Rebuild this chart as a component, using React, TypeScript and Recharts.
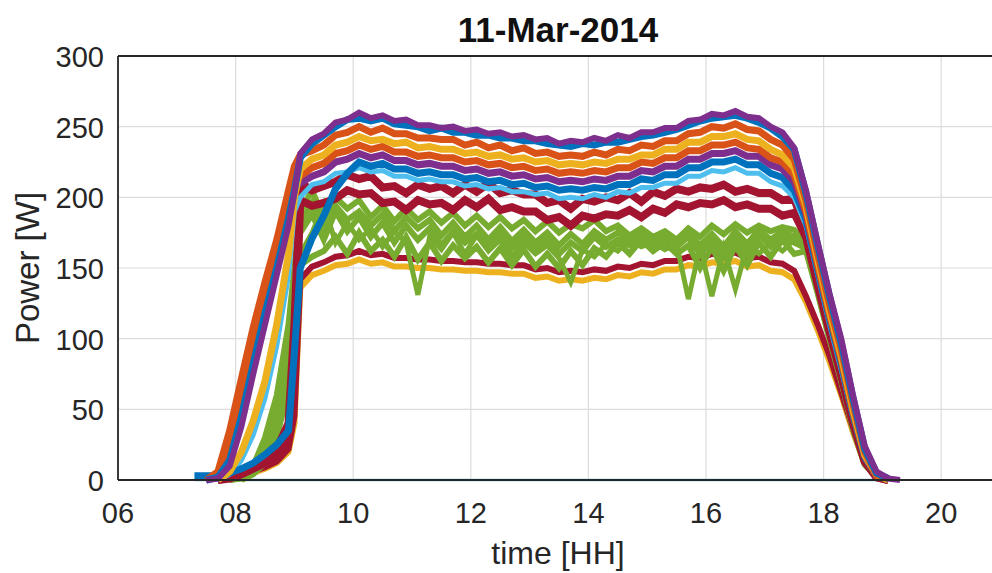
import React from 'react'
import { LineChart, Line, XAxis, YAxis, CartesianGrid, ReferenceLine } from 'recharts'

// time of day [h]
const T = [
  7.3, 7.5, 7.7, 7.9, 8.1, 8.3, 8.5, 8.7, 8.9, 9.0,
  9.1, 9.3, 9.5, 9.7, 9.9, 10.1, 10.3, 10.5, 10.7, 10.9,
  11.1, 11.3, 11.5, 11.7, 11.9, 12.1, 12.3, 12.5, 12.7, 12.9,
  13.1, 13.3, 13.5, 13.7, 13.9, 14.1, 14.3, 14.5, 14.7, 14.9,
  15.1, 15.3, 15.5, 15.7, 15.9, 16.1, 16.3, 16.5, 16.7, 16.9,
  17.1, 17.3, 17.5,
  17.7, 17.9, 18.1, 18.3, 18.5, 18.7, 18.9, 19.1, 19.3,
]

// power [W] per module
const zero = [
  0, 0, 0, 0, 0, 0, 0, 0, 0, 0,
  0, 0, 0, 0, 0, 0, 0, 0, 0, 0,
  0, 0, 0, 0, 0, 0, 0, 0, 0, 0,
  0, 0, 0, 0, 0, 0, 0, 0, 0, 0,
  0, 0, 0, 0, 0, 0, 0, 0, 0, 0,
  0, 0, 0,
  0, 0, 0, 0, 0, 0, 0, 0, 0,
]
const topBlue = [
  null, 0, 2, 14, 45, 82, 118, 150, 185, 205,
  228, 238, 244, 250, 255, 256, 254, 256, 252, 251,
  250, 247, 249, 246, 246, 244, 244, 242, 242, 240,
  240, 238, 237, 236, 238, 237, 239, 239, 241, 243,
  244, 246, 248, 251, 254, 256, 257, 258, 256, 253,
  249, 243, 234,
  203, 166, 130, 97, 58, 22, 5, 1, null,
]
const purpleTop = [
  null, 0, 1, 10, 38, 75, 110, 145, 180, 203,
  231, 241, 245, 253, 255, 260, 256, 258, 254, 255,
  251, 251, 249, 250, 247, 248, 245, 246, 243, 244,
  241, 242, 238, 240, 239, 242, 240, 244, 242, 246,
  246, 249, 249, 254, 255, 259, 258, 261, 257, 256,
  250, 246, 235,
  205, 168, 132, 100, 60, 24, 6, 1, 0,
]
const orangeA = [
  null, 0, 6, 35, 72, 108, 140, 170, 205, 222,
  230, 233, 237, 244, 246, 250, 246, 249, 245, 245,
  242, 242, 241, 241, 237, 239, 235, 237, 233, 235,
  231, 232, 229, 230, 229, 232, 230, 234, 233, 237,
  236, 240, 240, 245, 246, 250, 249, 252, 248, 247,
  241, 237, 227,
  198, 160, 124, 92, 54, 20, 4, 1, null,
]
const yellow = [
  null, null, 0, 6, 20, 42, 70, 110, 160, 200,
  220, 227, 230, 237, 239, 243, 240, 241, 238, 239,
  235, 236, 234, 234, 231, 232, 229, 230, 227, 228,
  225, 226, 223, 224, 223, 225, 224, 227, 227, 230,
  230, 234, 234, 239, 239, 243, 243, 245, 241, 240,
  234, 230, 221,
  194, 156, 120, 88, 50, 18, 4, 0, null,
]
const orangeB = [
  null, null, 1, 22, 58, 95, 128, 160, 195, 212,
  215, 221, 224, 231, 233, 237, 234, 236, 232, 232,
  229, 230, 228, 228, 225, 226, 223, 224, 221, 222,
  219, 220, 217, 218, 217, 219, 218, 221, 221, 225,
  224, 228, 228, 233, 233, 237, 237, 239, 235, 234,
  228, 225, 216,
  190, 152, 117, 85, 48, 17, 3, 0, null,
]
const purpleB = [
  null, 0, 2, 16, 48, 88, 120, 152, 188, 208,
  210, 215, 218, 225, 227, 231, 228, 230, 226, 226,
  223, 224, 222, 222, 219, 220, 217, 218, 215, 216,
  213, 214, 211, 212, 211, 213, 212, 215, 215, 219,
  218, 222, 222, 227, 227, 231, 231, 233, 229, 229,
  223, 220, 211,
  188, 152, 118, 88, 52, 20, 5, 1, null,
]
const blueB = [
  3, 3, 3, 5, 8, 12, 18, 25, 35, 90,
  150, 171, 187, 206, 217, 225, 222, 224, 220, 220,
  217, 218, 216, 216, 213, 214, 211, 212, 209, 210,
  207, 208, 205, 206, 205, 207, 206, 209, 209, 213,
  212, 216, 216, 221, 221, 225, 225, 227, 223, 223,
  217, 214, 205,
  184, 148, 114, 82, 46, 16, 3, 0, null,
]
const teal = [
  null, null, 0, 4, 14, 32, 58, 95, 145, 190,
  200, 209, 211, 217, 218, 221, 218, 219, 215, 215,
  212, 213, 211, 211, 208, 209, 206, 207, 204, 204,
  202, 203, 199, 200, 199, 202, 200, 204, 203, 207,
  207, 210, 210, 215, 215, 219, 218, 221, 217, 217,
  211, 208, 200,
  180, 145, 110, 78, 44, 15, 3, 0, null,
]
const redA = [
  null, null, 0, 2, 5, 9, 14, 22, 40, 110,
  210, 205, 208, 211, 216, 213, 215, 207, 208, 203,
  209, 206, 208, 203, 209, 204, 210, 203, 205, 202,
  202, 196, 198, 192, 199, 197, 200, 198, 203, 197,
  204, 201, 206, 204, 207, 206, 209, 204, 206, 203,
  203, 198, 199,
  176, 142, 108, 76, 42, 14, 2, 0, null,
]
const redB = [
  null, null, 0, 1, 4, 8, 12, 18, 30, 90,
  198, 194, 196, 199, 205, 202, 203, 196, 197, 191,
  198, 195, 196, 191, 198, 193, 199, 191, 193, 190,
  190, 184, 186, 180, 187, 185, 188, 187, 191, 186,
  192, 189, 195, 193, 196, 195, 198, 193, 195, 192,
  192, 187, 189,
  172, 138, 105, 74, 40, 13, 2, 0, null,
]
const greenA = [
  null, null, null, 0, 3, 10, 30, 60, 110, 150,
  190, 205, 185, 200, 192, 198, 186, 194, 183, 192,
  184, 190, 182, 189, 180, 187, 179, 186, 178, 184,
  176, 183, 175, 181, 178, 184, 176, 180, 173, 178,
  172, 176, 170, 178, 172, 180, 174, 181, 175, 180,
  176, 179, 177,
  168, 136, 103, 72, 38, 12, 2, null, null,
]
const greenB = [
  null, null, null, 0, 2, 6, 20, 45, 85, 120,
  160, 175, 195, 168, 182, 170, 178, 165, 176, 168,
  131, 172, 163, 175, 160, 173, 162, 170, 158, 168,
  160, 166, 157, 140, 163, 158, 167, 162, 170, 165,
  168, 163, 167, 128, 165, 130, 164, 135, 166, 160,
  168, 162, 170,
  165, 134, 101, 71, 37, 12, 2, null, null,
]
const greenC = [
  null, null, null, null, 0, 4, 12, 30, 65, 100,
  152, 158, 162, 172, 160, 175, 162, 170, 158, 172,
  156, 168, 155, 166, 157, 165, 154, 164, 152, 163,
  151, 160, 150, 162, 152, 164, 158, 168, 160, 170,
  162, 168, 160, 166, 150, 165, 148, 166, 152, 168,
  158, 170, 160,
  162, 132, 100, 70, 36, 11, 2, null, null,
]
const greenD = [
  null, null, null, 0, 1, 5, 16, 38, 75, 135,
  175, 188, 170, 190, 176, 186, 172, 182, 168, 180,
  170, 178, 166, 176, 168, 174, 165, 175, 164, 172,
  163, 170, 160, 168, 162, 172, 165, 170, 166, 174,
  166, 171, 165, 172, 160, 170, 158, 172, 160, 174,
  165, 173, 168,
  164, 133, 100, 70, 36, 11, 2, null, null,
]
const greenE = [
  null, null, null, 0, 2, 8, 24, 52, 95, 140,
  182, 196, 178, 194, 184, 190, 180, 188, 176, 186,
  178, 184, 173, 182, 172, 180, 170, 179, 169, 177,
  168, 175, 166, 174, 167, 176, 170, 175, 169, 176,
  169, 174, 168, 175, 166, 174, 165, 176, 167, 177,
  170, 176, 172,
  166, 135, 102, 71, 37, 12, 2, null, null,
]
const redBot = [
  null, null, 0, 2, 4, 6, 9, 13, 22, 45,
  142, 151, 154, 158, 159, 162, 159, 160, 157, 157,
  156, 156, 155, 155, 154, 154, 153, 153, 152, 152,
  149, 150, 147, 148, 147, 149, 148, 151, 150, 153,
  152, 155, 155, 158, 157, 160, 159, 161, 157, 158,
  154, 153, 148,
  130, 110, 88, 62, 36, 12, 2, 0, null,
]
const yellowBot = [
  null, null, null, 1, 3, 5, 8, 12, 20, 40,
  136, 145, 148, 152, 153, 156, 153, 154, 151, 151,
  150, 150, 149, 149, 148, 148, 147, 147, 146, 146,
  143, 144, 141, 142, 141, 143, 142, 145, 144, 147,
  146, 149, 149, 152, 151, 154, 153, 155, 151, 152,
  148, 147, 142,
  126, 106, 84, 60, 34, 11, 2, 0, null,
]

const X_TICKS = [6, 8, 10, 12, 14, 16, 18, 20]
const Y_TICKS = [0, 50, 100, 150, 200, 250, 300]

const SERIES = [
  { key: 'zero', values: zero, color: '#4DBEEE', width: 2.5 },
  { key: 'yellowBot', values: yellowBot, color: '#EDB120', width: 6 },
  { key: 'redBot', values: redBot, color: '#A2142F', width: 6 },
  { key: 'greenC', values: greenC, color: '#77AC30', width: 6 },
  { key: 'greenD', values: greenD, color: '#77AC30', width: 6 },
  { key: 'greenB', values: greenB, color: '#77AC30', width: 5 },
  { key: 'greenE', values: greenE, color: '#77AC30', width: 6 },
  { key: 'greenA', values: greenA, color: '#77AC30', width: 6 },
  { key: 'redB', values: redB, color: '#A2142F', width: 8 },
  { key: 'redA', values: redA, color: '#A2142F', width: 8 },
  { key: 'teal', values: teal, color: '#4DBEEE', width: 5 },
  { key: 'blueB', values: blueB, color: '#0072BD', width: 7 },
  { key: 'purpleB', values: purpleB, color: '#7E2F8E', width: 7 },
  { key: 'orangeB', values: orangeB, color: '#D95319', width: 7 },
  { key: 'yellow', values: yellow, color: '#EDB120', width: 7 },
  { key: 'orangeA', values: orangeA, color: '#D95319', width: 7 },
  { key: 'topBlue', values: topBlue, color: '#0072BD', width: 7 },
  { key: 'purpleTop', values: purpleTop, color: '#7E2F8E', width: 6 },
]

const rows = T.map((t, i) => {
  const row: Record<string, number | null> = { t }
  SERIES.forEach((s) => { row[s.key] = s.values[i] })
  return row
})

const FONT = '"Liberation Sans", Arial, Helvetica, sans-serif'
const INK = '#262626'

const XTick = ({ x, y, payload }: any) => (
  <text x={x} y={y + 43} textAnchor="middle" fontSize={29} fill={INK} fontFamily={FONT}>
    {String(payload.value).padStart(2, '0')}
  </text>
)

const YTick = ({ x, y, payload }: any) => (
  <text x={x - 14} y={y + 11} textAnchor="end" fontSize={29} fill={INK} fontFamily={FONT}>
    {payload.value}
  </text>
)

export default function App() {
  return (
    <div style={{ position: 'absolute', left: 0, top: 0, width: 992, height: 573, overflow: 'hidden', background: '#fff' }}>
      <LineChart width={1004} height={573} data={rows} margin={{ top: 56, right: 4, bottom: 0, left: 0 }}>
        <CartesianGrid stroke="#dcdcdc" strokeWidth={1.2} />
        <XAxis
          dataKey="t"
          type="number"
          domain={[6, 21]}
          ticks={X_TICKS}
          interval={0}
          allowDataOverflow
          height={93}
          tickLine={false}
          tickSize={0}
          tickMargin={0}
          tick={XTick}
          axisLine={{ stroke: INK, strokeWidth: 1.8 }}
        />
        <YAxis
          type="number"
          domain={[0, 300]}
          ticks={Y_TICKS}
          interval={0}
          width={118}
          tickLine={false}
          tickSize={0}
          tickMargin={0}
          tick={YTick}
          axisLine={{ stroke: INK, strokeWidth: 1.8 }}
        />
        <ReferenceLine y={300} stroke={INK} strokeWidth={1.8} />
        {SERIES.map((s) => (
          <Line
            key={s.key}
            dataKey={s.key}
            type="linear"
            stroke={s.color}
            strokeWidth={s.width}
            dot={false}
            activeDot={false}
            isAnimationActive={false}
          />
        ))}
      </LineChart>
      <svg width={992} height={573} style={{ position: 'absolute', left: 0, top: 0, pointerEvents: 'none' }}>
        <text x={558} y={42} textAnchor="middle" fontSize={35} fontWeight="bold" fill="#111" fontFamily={FONT}>
          11-Mar-2014
        </text>
        <text x={558} y={564} textAnchor="middle" fontSize={32} fill={INK} fontFamily={FONT}>
          time [HH]
        </text>
        <text transform="translate(39,268) rotate(-90)" textAnchor="middle" fontSize={33} fill={INK} fontFamily={FONT}>
          Power [W]
        </text>
      </svg>
    </div>
  )
}
